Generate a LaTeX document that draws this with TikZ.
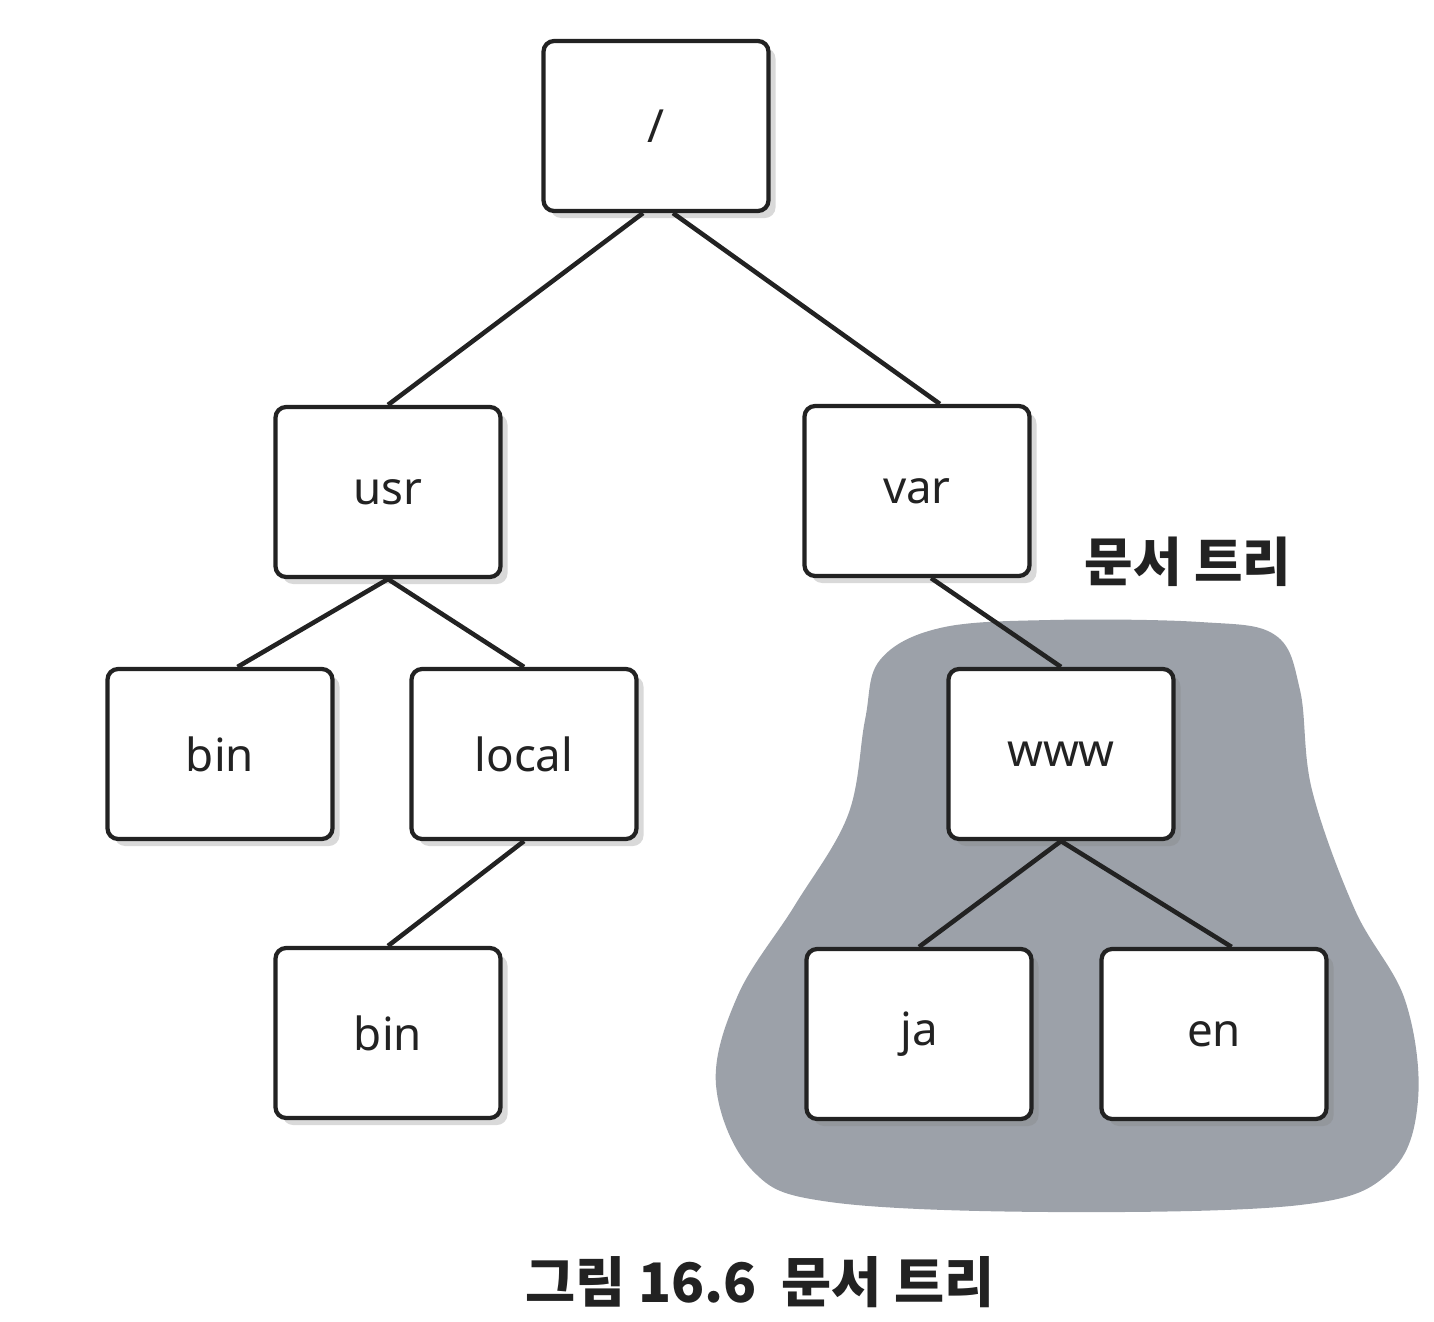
\documentclass[tikz,border=0pt]{standalone}
\usepackage{fontspec}
\usepackage{tikz, xcolor}
\usetikzlibrary{shapes,arrows,shadows}
\setmainfont{Noto Sans}
\newfontfamily\kor{Noto Sans CJK KR}
\definecolor{blobgray}{RGB}{156,161,169}
\definecolor{inkgray}{RGB}{34,34,34}

\begin{document}
\begin{tikzpicture}[thick, x=0.02cm, y=-0.02cm]
\tikzstyle{vertexr}=[rectangle, draw=inkgray, line width=2.4pt, rounded corners=6pt, fill=white,
  minimum width=4.5cm, minimum height=3.4cm, inner sep=2pt, font=\fontsize{26}{30}\selectfont,
  text=inkgray, drop shadow={shadow xshift=4pt, shadow yshift=-4pt, opacity=0.3, fill=gray}]
\tikzstyle{drawstyle}=[draw=inkgray, line width=2.6pt]
\tikzstyle{labelk}=[font=\kor\bfseries\fontsize{30}{36}\selectfont, text=inkgray]
\tikzstyle{labelc}=[font=\kor\bfseries\fontsize{31}{36}\selectfont, text=inkgray]

\useasboundingbox (0,0) rectangle (1434,1322);

% document tree region
\fill[blobgray] plot[smooth cycle, tension=0.6] coordinates {
  (880,660) (940,628) (1050,620) (1200,622) (1275,635) (1300,690) (1312,790)
  (1355,910) (1405,1000) (1418,1100) (1390,1172) (1300,1205) (1050,1212)
  (830,1202) (752,1170) (716,1085) (738,995) (795,905) (848,815) (865,720)};

\node[vertexr] (Groot) at (656,126) {/};
\node[vertexr] (Gusr) at (388,492) {usr};
\draw[drawstyle] (Groot.south) ++(-13,0) -- (Gusr.north);
\node[vertexr] (Gvar) at (917,491) {var};
\draw[drawstyle] (Groot.south) ++(17,0) -- ([xshift=13]Gvar.north);
\node[vertexr] (Gbin1) at (220,754) {bin};
\draw[drawstyle] (Gusr.south) -- ([xshift=10]Gbin1.north);
\node[vertexr] (Glocal) at (524,754) {local};
\draw[drawstyle] (Gusr.south) -- (Glocal.north);
\node[vertexr] (Gbin2) at (388,1033) {bin};
\draw[drawstyle] (Glocal.south) -- (Gbin2.north);
\node[vertexr] (Gwww) at (1061,754) {www};
\draw[drawstyle] ([xshift=8]Gvar.south) -- (Gwww.north);
\node[vertexr] (Gja) at (919,1034) {ja};
\draw[drawstyle] (Gwww.south) -- (Gja.north);
\node[vertexr] (Gen) at (1214,1034) {en};
\draw[drawstyle] (Gwww.south) -- ([xshift=10]Gen.north);

\node[labelk] (Gtag) at (1188,562) {문서 트리};
\node[labelc] (Gcap) at (760,1282) {그림 16.6\ \ 문서 트리};
\end{tikzpicture}
\end{document}
